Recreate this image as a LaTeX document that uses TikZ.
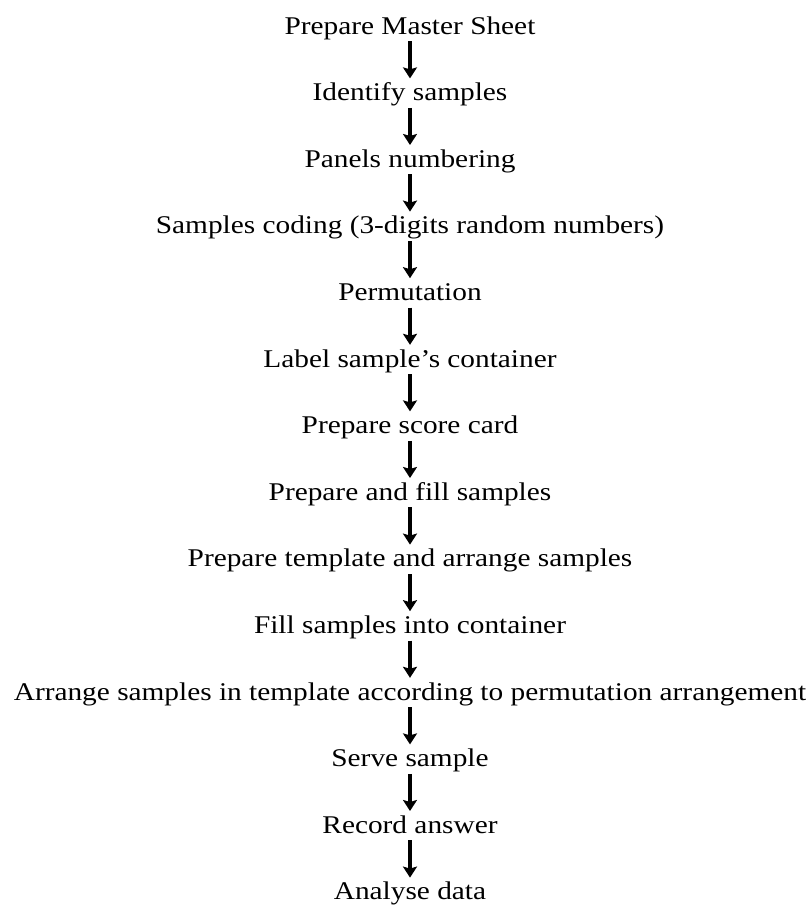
\documentclass[tikz,border=0pt]{standalone}
\usepackage{fontspec}
\setmainfont[FakeStretch=1.15]{Liberation Serif}
\usetikzlibrary{arrows.meta}
\begin{document}
\begin{tikzpicture}[x=1pt,y=-1pt,
  stepnode/.style={anchor=base,inner sep=0pt,text height=22pt,text depth=7pt,font=\fontsize{25.5}{28}\selectfont},
  flow/.style={line width=3.3pt,-{Stealth[length=11pt,width=14pt,inset=2pt]}}]
\useasboundingbox (0,0) rectangle (809,905);
\def\bx{410}
\node[stepnode] (n1) at (\bx,34) {Prepare Master Sheet};
\node[stepnode] (n2) at (\bx,100.6) {Identify samples};
\node[stepnode] (n3) at (\bx,167.2) {Panels numbering};
\node[stepnode] (n4) at (\bx,233.8) {Samples coding (3-digits random numbers)};
\node[stepnode] (n5) at (\bx,300.4) {Permutation};
\node[stepnode] (n6) at (\bx,367) {Label sample’s container};
\node[stepnode] (n7) at (\bx,433.6) {Prepare score card};
\node[stepnode] (n8) at (\bx,500.2) {Prepare and fill samples};
\node[stepnode] (n9) at (\bx,566.8) {Prepare template and arrange samples};
\node[stepnode] (n10) at (\bx,633.4) {Fill samples into container};
\node[stepnode] (n11) at (\bx,700) {Arrange samples in template according to permutation arrangement};
\node[stepnode] (n12) at (\bx,766.6) {Serve sample};
\node[stepnode] (n13) at (\bx,833.2) {Record answer};
\node[stepnode] (n14) at (\bx,899.8) {Analyse data};
\foreach \a/\b in {n1/n2,n2/n3,n3/n4,n4/n5,n5/n6,n6/n7,n7/n8,n8/n9,n9/n10,n10/n11,n11/n12,n12/n13,n13/n14}
  \draw[flow] (\a.south) -- (\a.south |- \b.north);
\end{tikzpicture}
\end{document}
